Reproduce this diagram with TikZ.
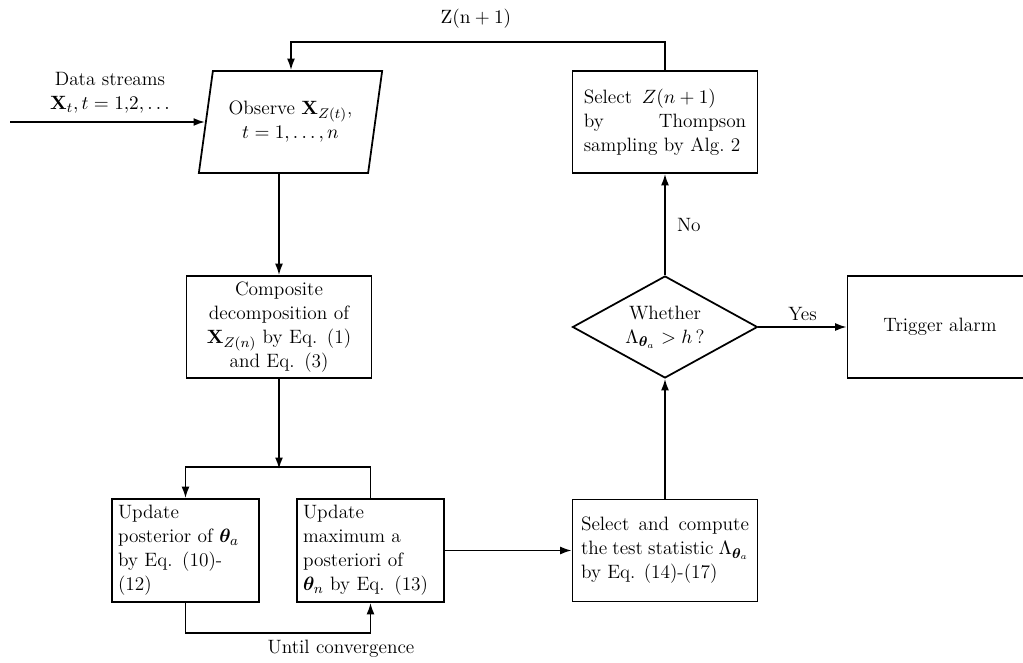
\documentclass[tikz,border=0pt]{standalone}
\usepackage{amsmath,amssymb}
\usepackage{bm}
\usetikzlibrary{arrows.meta,positioning,shapes.geometric}

\begin{document}
\begin{tikzpicture}[x=0.02cm,y=-0.02cm,line width=1pt,
  >={Latex[length=6.5pt,width=4.5pt]},
  every node/.style={font=\fontsize{11}{13.6}\selectfont},
  stepbox/.style={draw,rectangle,minimum width=3.7cm,minimum height=2.04cm},
  updbox/.style={draw,rectangle,minimum width=2.94cm,minimum height=2.06cm,
    text width=2.7cm,align=left},
  iobox/.style={draw,trapezium,trapezium left angle=77,trapezium right angle=103,
    trapezium stretches=true,minimum width=3.7cm,minimum height=2.04cm,align=center},
  decbox/.style={draw,diamond,aspect=1.8,inner sep=0pt,
    minimum width=3.7cm,minimum height=2.04cm,align=center}]
  \useasboundingbox (0,0) rectangle (1023,662);

  % Input and observation
  \node[align=center] (data) at (110,93) {Data streams\\ $\mathbf{X}_t, t = 1{,}2, \ldots$};
  \coordinate (src) at (10,122);
  \node[iobox] (obs) at (290.5,122) {Observe $\mathbf{X}_{Z(t)}$,\\ $t = 1, \ldots, n$};
  \draw[->] (src) -- (obs.west);

  % Decomposition
  \node[stepbox,text width=3.3cm,align=center] (comp) at (279,327)
    {Composite\\ decomposition of\\ $\mathbf{X}_{Z(n)}$ by Eq. (1)\\ and Eq. (3)};
  \draw[->] (obs.south -| comp.north) -- (comp.north);

  % Until convergence loop
  \node[updbox] (upd1) at (185.5,550.5)
    {Update\\ posterior of $\bm{\theta}_a$\\ by Eq. (10)-\\ (12)};
  \node[updbox] (upd2) at (370.5,550.5)
    {Update\\ maximum a\\ posteriori of\\ $\bm{\theta}_n$ by Eq. (13)};
  \coordinate (split) at (279,469);
  \draw[->] (comp.south) -- (split);
  \draw[->] (upd2.north) -- ++(0,-31) -| (upd1.north);
  \draw[->] (upd1.south) -- ++(0,30) -| (upd2.south);
  \node (conv) at (341,649) {Until convergence};

  % Test statistic and decision
  \node[stepbox,text width=3.36cm,align=justify] (selc) at (665,550.5)
    {Select\hfill and\hfill compute\\ the test statistic $\Lambda_{\bm{\theta}_a}$\\ by Eq. (14)-(17)};
  \draw[->] (upd2.east) -- (upd2.east -| selc.west);
  \node[decbox] (dec) at (665,327) {Whether\\ $\Lambda_{\bm{\theta}_a} > h$\,?};
  \draw[->] (selc.north) -- (dec.south);
  \node[stepbox] (alarm) at (940,327) {Trigger alarm};
  \draw[->] (dec.east) -- node[above] {Yes} (alarm.west);

  % Sampling and feedback
  \node[stepbox,text width=3.25cm,align=left] (selz) at (665,122)
    {Select\, $Z(n+1)$\\ by\hfill Thompson\\ sampling by Alg.~2};
  \draw[->] (dec.north) -- node[right=3pt] {No} (selz.south);
  \coordinate (fb) at (291,42);
  \draw[->] (selz.north) |- (fb) -- (fb |- obs.north);
  \node (znext) at (476,19) {$\mathrm{Z(n+1)}$};
\end{tikzpicture}
\end{document}
